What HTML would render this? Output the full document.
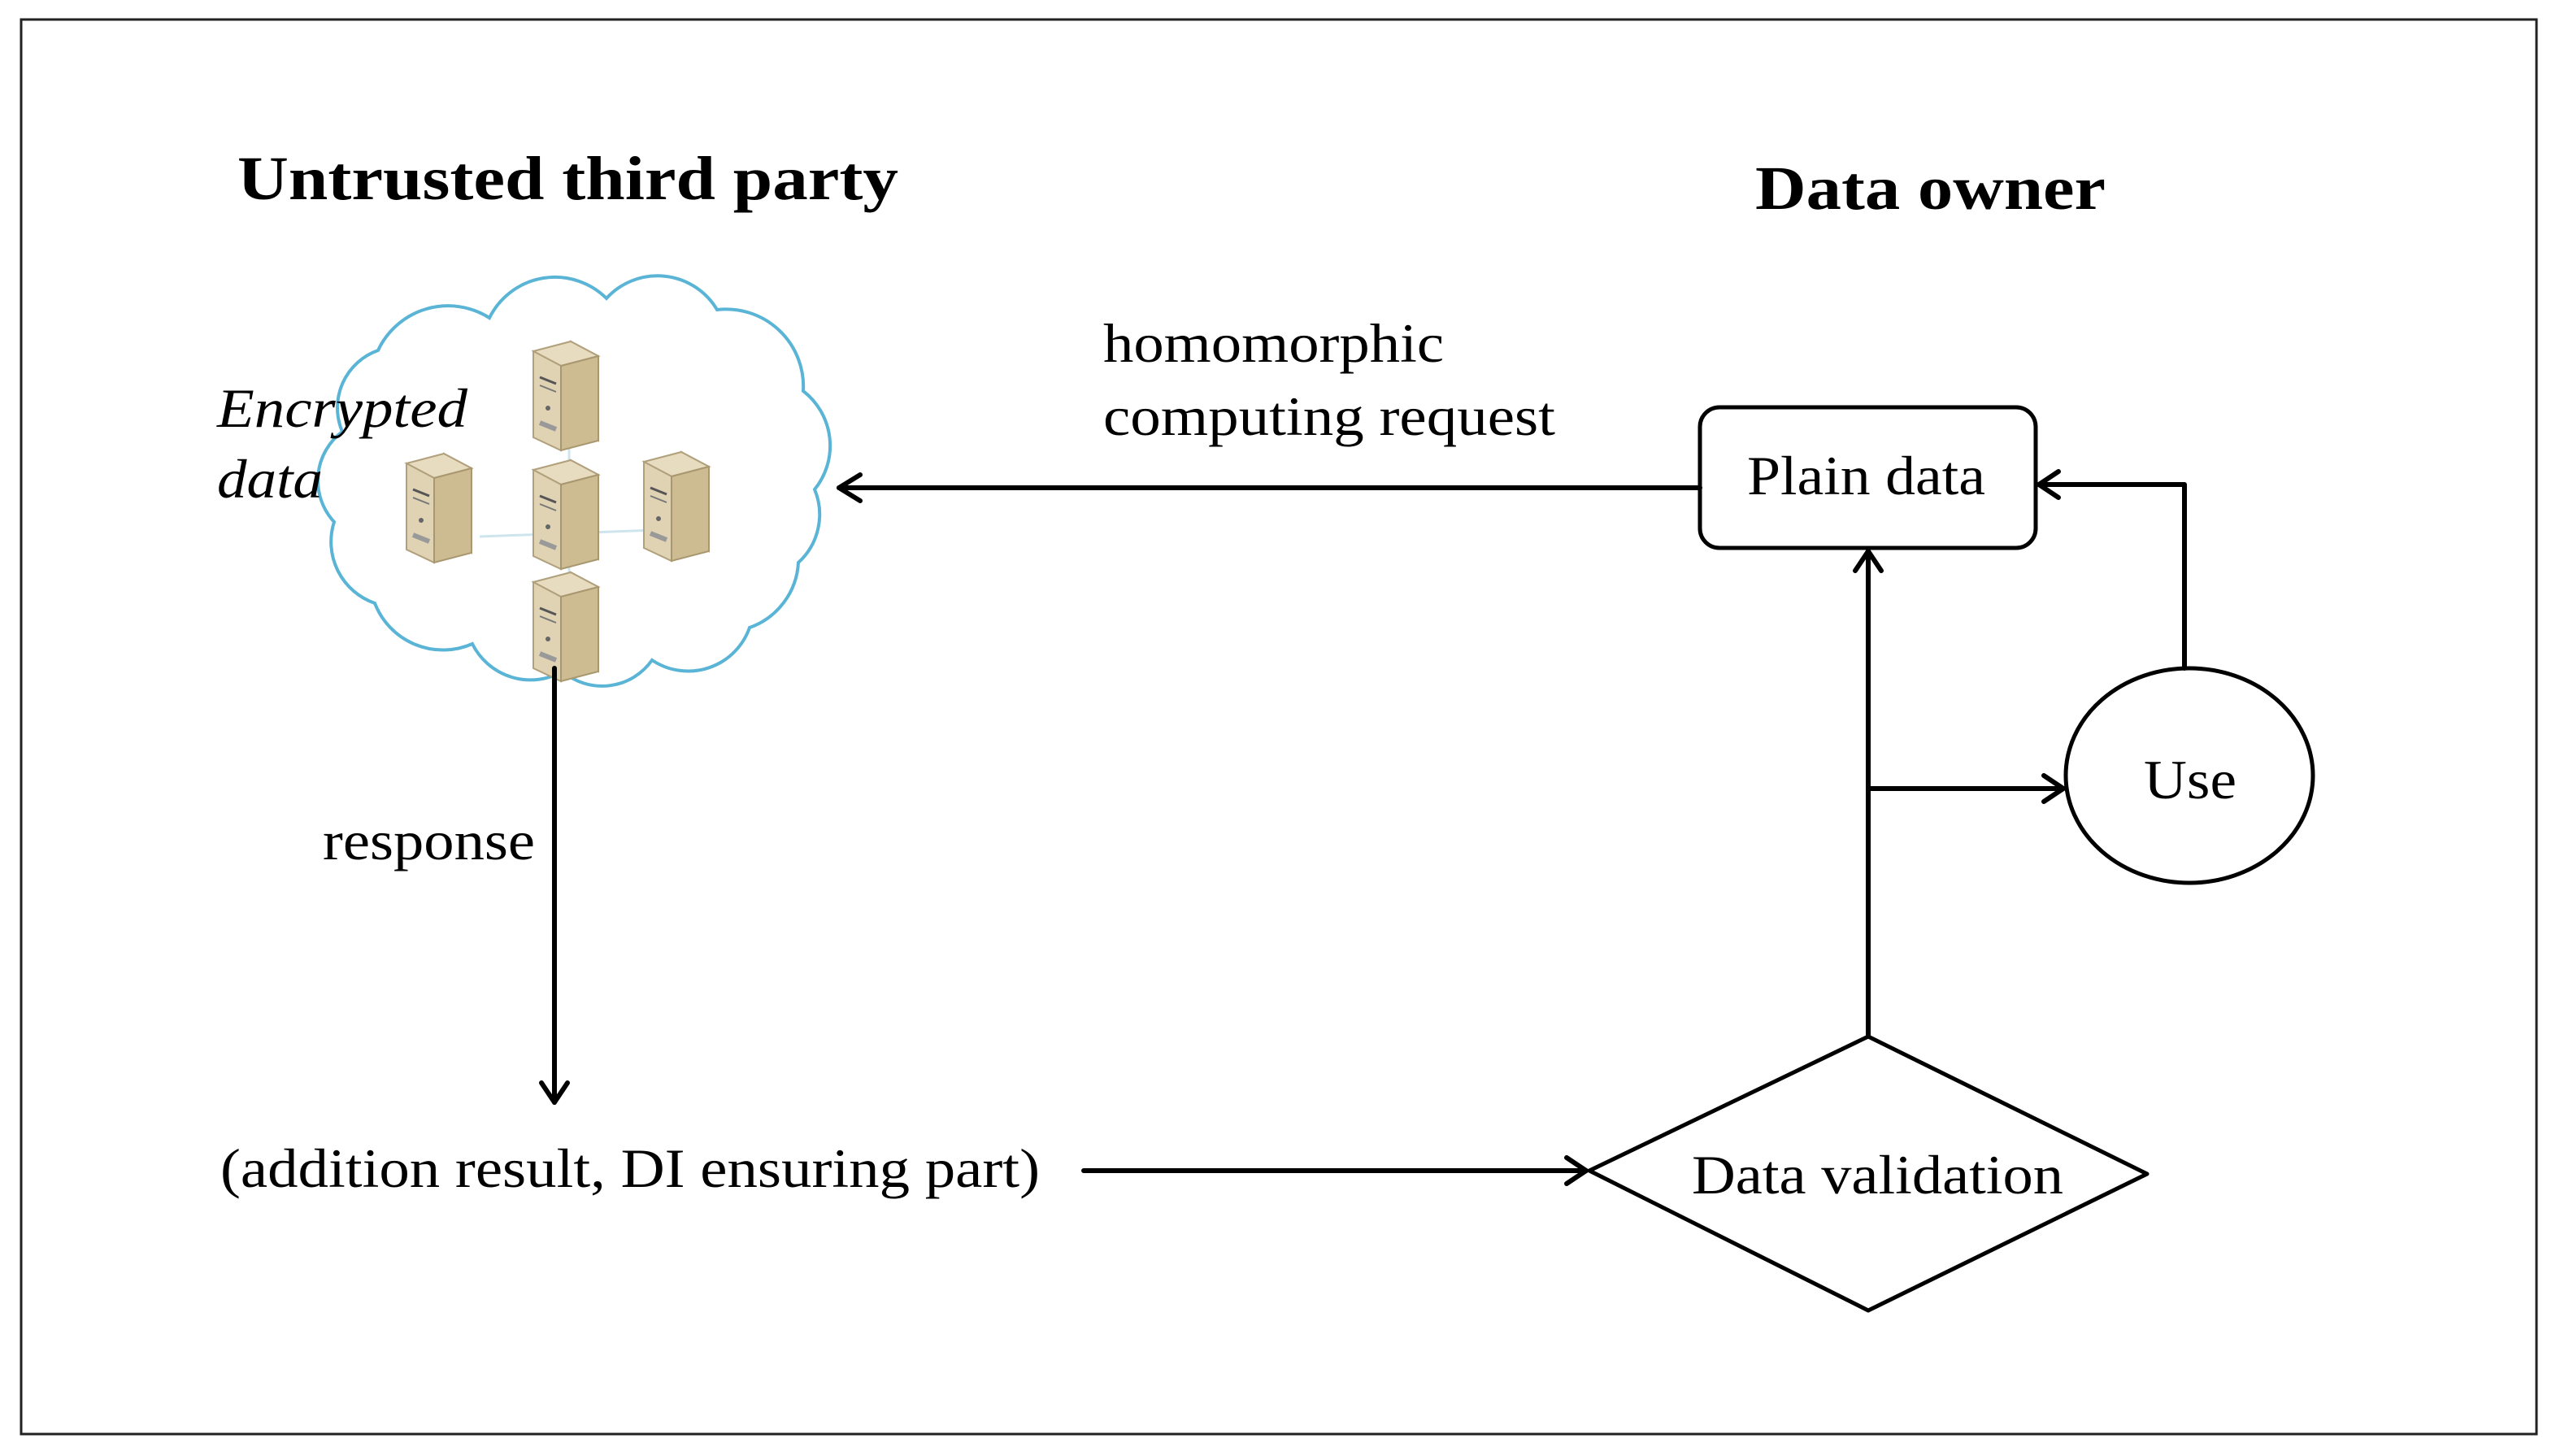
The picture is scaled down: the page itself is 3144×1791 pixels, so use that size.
<!DOCTYPE html>
<html><head><meta charset="utf-8"><style>html,body{margin:0;padding:0;background:#fff}svg{display:block}</style></head>
<body>
<svg width="3144" height="1791" viewBox="0 0 3144 1791" xmlns="http://www.w3.org/2000/svg" font-family="Liberation Serif, serif">
<defs>
<g id="srv">
 <polygon points="46,0 80,18 80,122 46,106" fill="#bfae86" stroke="#a8976f" stroke-width="2"/>
 <polygon points="0,12 46,0 80,18 34,30" fill="#e8dcc0" stroke="#b0a07c" stroke-width="2"/>
 <polygon points="0,12 34,30 34,134 0,118" fill="#e0d3b4" stroke="#b0a07c" stroke-width="2"/>
 <line x1="8" y1="44" x2="28" y2="52" stroke="#555" stroke-width="3"/>
 <line x1="8" y1="54" x2="28" y2="62" stroke="#777" stroke-width="2"/>
 <circle cx="18" cy="82" r="3" fill="#666"/>
 <line x1="8" y1="100" x2="28" y2="108" stroke="#999" stroke-width="6"/>
 <polygon points="34,30 80,18 80,122 34,134" fill="#cdbb92" stroke="#a8976f" stroke-width="2"/>
</g>
</defs>
<rect x="26" y="24" width="3094" height="1740" fill="none" stroke="#222" stroke-width="3"/>

<path d="M465,431 A95,95 0 0 1 602,391 A90,90 0 0 1 746,367 A85,85 0 0 1 882,381 A95,95 0 0 1 988,481 A85,85 0 0 1 1002,602 A80,80 0 0 1 982,692 A90,90 0 0 1 922,772 A80,80 0 0 1 802,812 A75,75 0 0 1 692,826 A80,80 0 0 1 581,792 A90,90 0 0 1 461,742 A80,80 0 0 1 411,642 A75,75 0 0 1 421,531 A75,75 0 0 1 465,431 Z" fill="#fff" stroke="#5ab4d6" stroke-width="4"/>
<g stroke="#cfe5ee" stroke-width="3">
<line x1="700" y1="520" x2="700" y2="760"/><line x1="590" y1="660" x2="860" y2="650"/>
</g>
<use href="#srv" x="656" y="420"/>
<use href="#srv" x="500" y="558"/>
<use href="#srv" x="656" y="566"/>
<use href="#srv" x="792" y="556"/>
<use href="#srv" x="656" y="704"/>

<g fill="#000">
<text x="292" y="245" font-size="76" font-weight="bold" textLength="813" lengthAdjust="spacingAndGlyphs">Untrusted third party</text>
<text x="2159" y="257" font-size="76" font-weight="bold" textLength="431" lengthAdjust="spacingAndGlyphs">Data owner</text>
<text x="1357" y="445" font-size="68" textLength="419" lengthAdjust="spacingAndGlyphs">homomorphic</text>
<text x="1357" y="535" font-size="68" textLength="556" lengthAdjust="spacingAndGlyphs">computing request</text>
<text x="267" y="525" font-size="68" font-style="italic" textLength="308" lengthAdjust="spacingAndGlyphs">Encrypted</text>
<text x="267" y="612" font-size="68" font-style="italic" textLength="130" lengthAdjust="spacingAndGlyphs">data</text>
<text x="397" y="1057" font-size="68" textLength="261" lengthAdjust="spacingAndGlyphs">response</text>
<text x="271" y="1460" font-size="68" textLength="1008" lengthAdjust="spacingAndGlyphs">(addition result, DI ensuring part)</text>
<text x="2149" y="608" font-size="68" textLength="293" lengthAdjust="spacingAndGlyphs">Plain data</text>
<text x="2637" y="982" font-size="68" textLength="114" lengthAdjust="spacingAndGlyphs">Use</text>
<text x="2081" y="1468" font-size="68" textLength="457" lengthAdjust="spacingAndGlyphs">Data validation</text>
</g>

<g fill="none" stroke="#000" stroke-width="6" stroke-linecap="round" stroke-linejoin="round">
<rect x="2091" y="501" width="413" height="173" rx="24" stroke-width="5"/>
<ellipse cx="2693" cy="954" rx="152" ry="132" stroke-width="5"/>
<polygon points="2298,1275 2641,1444 2298,1612 1955,1440" stroke-width="5"/>
<line x1="2091" y1="600" x2="1032" y2="600"/>
<polyline points="1058,584 1032,600 1058,616"/>
<polyline points="2687,822 2687,596 2508,596"/>
<polyline points="2532,580 2508,596 2532,612"/>
<line x1="2298" y1="1275" x2="2298" y2="678"/>
<polyline points="2282,702 2298,678 2314,702"/>
<line x1="2298" y1="970" x2="2538" y2="970"/>
<polyline points="2514,954 2538,970 2514,986"/>
<line x1="682" y1="822" x2="682" y2="1356"/>
<polyline points="666,1332 682,1356 698,1332"/>
<line x1="1333" y1="1440" x2="1951" y2="1440"/>
<polyline points="1927,1424 1951,1440 1927,1456"/>
</g>
</svg>
</body></html>
